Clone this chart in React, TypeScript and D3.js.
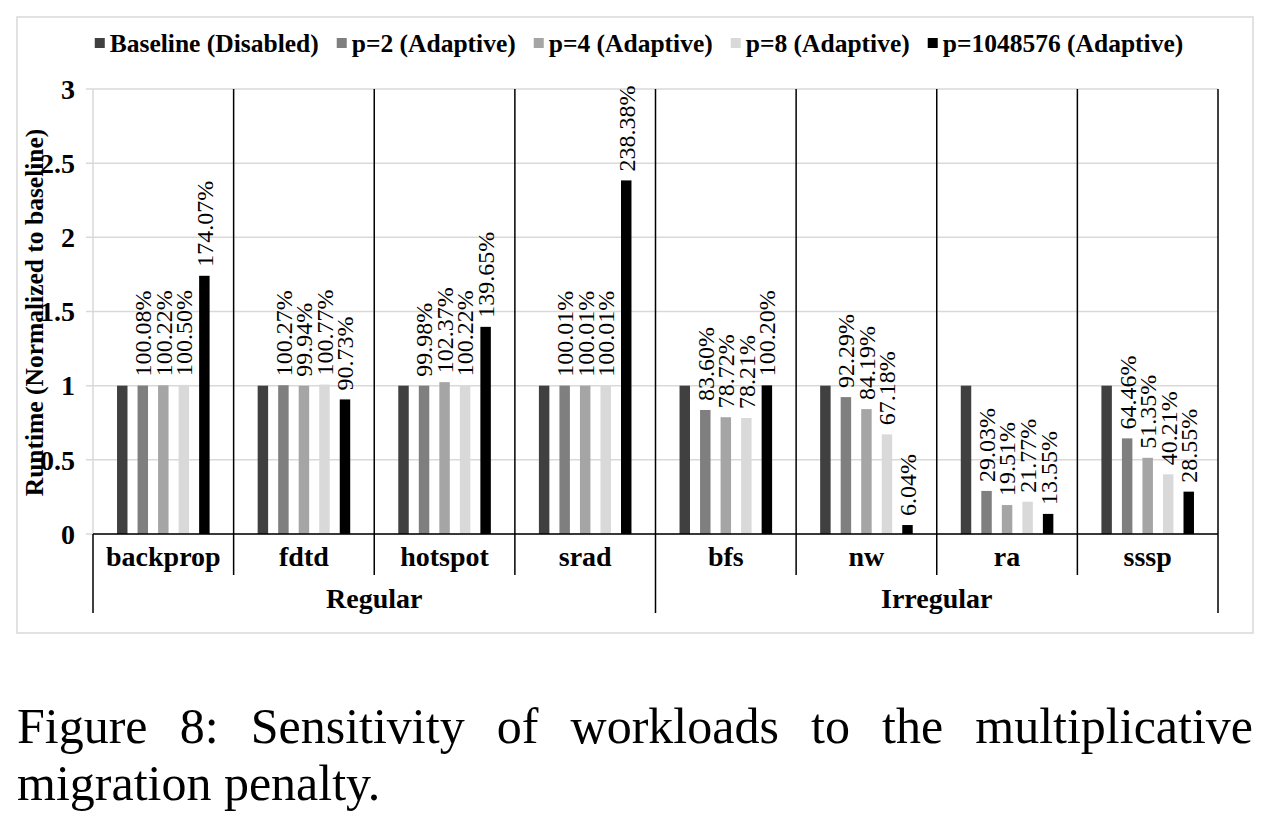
import React, { useRef, useEffect } from "react";
import * as d3 from "d3";

// workloads and their grouping
const categories = ["backprop", "fdtd", "hotspot", "srad", "bfs", "nw", "ra", "sssp"];
const categoryGroup = ["Regular", "Regular", "Regular", "Regular", "Irregular", "Irregular", "Irregular", "Irregular"];
const groupNames = ["Regular", "Irregular"];

const seriesNames = [
  "Baseline (Disabled)",
  "p=2 (Adaptive)",
  "p=4 (Adaptive)",
  "p=8 (Adaptive)",
  "p=1048576 (Adaptive)",
];
const seriesColors = ["#404040", "#7f7f7f", "#a5a5a5", "#d9d9d9", "#000000"];

// runtime normalized to baseline, one array per series
const baseline = [1, 1, 1, 1, 1, 1, 1, 1];
const p2 = [1.0008, 1.0027, 0.9998, 1.0001, 0.836, 0.9229, 0.2903, 0.6446];
const p4 = [1.0022, 0.9994, 1.0237, 1.0001, 0.7872, 0.8419, 0.1951, 0.5135];
const p8 = [1.005, 1.0077, 1.0022, 1.0001, 0.7821, 0.6718, 0.2177, 0.4021];
const p1048576 = [1.7407, 0.9073, 1.3965, 2.3838, 1.002, 0.0604, 0.1355, 0.2855];
const seriesValues = [baseline, p2, p4, p8, p1048576];
const labelledSeries = [false, true, true, true, true];

const yTicks = [0, 0.5, 1, 1.5, 2, 2.5, 3];
const yTitle = "Runtime (Normalized to baseline)";
const captionLines = [
  "Figure 8: Sensitivity of workloads to the multiplicative",
  "migration penalty.",
];

const FONT = "'Liberation Serif', 'Times New Roman', serif";

export default function App() {
  const svgRef = useRef<SVGSVGElement>(null);

  useEffect(() => {
    const W = 1273;
    const H = 819;
    const svg = d3.select(svgRef.current);
    svg.selectAll("*").remove();
    svg.attr("width", W).attr("height", H).style("font-family", FONT);

    svg.append("rect").attr("width", W).attr("height", H).attr("fill", "#fff");

    // chart frame
    svg
      .append("rect")
      .attr("x", 17)
      .attr("y", 17)
      .attr("width", 1236)
      .attr("height", 616)
      .attr("fill", "none")
      .attr("stroke", "#d9d9d9")
      .attr("stroke-width", 1.5);

    const left = 93;
    const right = 1218;
    const top = 89;
    const bottom = 534;
    const catBottom = 575;
    const groupBottom = 613;

    const x0 = d3.scaleBand().domain(categories).range([left, right]).padding(0);
    const x1 = d3
      .scaleBand()
      .domain(seriesNames)
      .range([19, x0.bandwidth() - 19])
      .paddingInner(0.49)
      .paddingOuter(0.245);
    const y = d3.scaleLinear().domain([0, 3]).range([bottom, top]);

    // gridlines
    svg
      .append("g")
      .selectAll("line")
      .data(yTicks)
      .join("line")
      .attr("x1", left - 7)
      .attr("x2", right)
      .attr("y1", (d) => y(d))
      .attr("y2", (d) => y(d))
      .attr("stroke", "#d9d9d9")
      .attr("stroke-width", 1.5);

    // value axis line
    svg
      .append("line")
      .attr("x1", left)
      .attr("x2", left)
      .attr("y1", top)
      .attr("y2", bottom)
      .attr("stroke", "#d9d9d9")
      .attr("stroke-width", 1.5);

    // y tick labels
    svg
      .append("g")
      .selectAll("text")
      .data(yTicks)
      .join("text")
      .attr("x", 75)
      .attr("y", (d) => y(d))
      .attr("dy", "0.35em")
      .attr("text-anchor", "end")
      .attr("font-weight", "bold")
      .attr("font-size", 28)
      .text((d) => String(d));

    // y title
    svg
      .append("text")
      .attr("transform", `translate(34,${(top + bottom) / 2 + 1}) rotate(-90)`)
      .attr("dy", "0.35em")
      .attr("text-anchor", "middle")
      .attr("font-weight", "bold")
      .attr("font-size", 25.5)
      .text(yTitle);

    // bars
    const barData = categories.flatMap((c, i) =>
      seriesNames.map((s, j) => ({ c, s, j, v: seriesValues[j][i] }))
    );
    svg
      .append("g")
      .selectAll("rect")
      .data(barData)
      .join("rect")
      .attr("x", (d) => x0(d.c)! + x1(d.s)!)
      .attr("width", x1.bandwidth())
      .attr("y", (d) => y(d.v))
      .attr("height", (d) => bottom - y(d.v))
      .attr("fill", (d) => seriesColors[d.j]);

    // data labels
    svg
      .append("g")
      .selectAll("text")
      .data(barData.filter((d) => labelledSeries[d.j]))
      .join("text")
      .attr(
        "transform",
        (d) =>
          `translate(${x0(d.c)! + x1(d.s)! + x1.bandwidth() / 2},${y(d.v) - 9}) rotate(-90)`
      )
      .attr("dy", "0.35em")
      .attr("font-size", 24)
      .text((d) => `${(d.v * 100).toFixed(2)}%`);

    // category axis line and separators
    const ax = svg.append("g").attr("stroke", "#000").attr("stroke-width", 1.5);
    ax.append("line").attr("x1", left).attr("x2", right).attr("y1", bottom).attr("y2", bottom);
    categories.forEach((c, i) => {
      if (i === 0) return;
      const xb = x0(c)!;
      const groupEdge = categoryGroup[i] !== categoryGroup[i - 1];
      ax.append("line")
        .attr("x1", xb)
        .attr("x2", xb)
        .attr("y1", top)
        .attr("y2", groupEdge ? groupBottom : catBottom);
    });
    ax.append("line").attr("x1", left).attr("x2", left).attr("y1", bottom).attr("y2", groupBottom);
    ax.append("line").attr("x1", right).attr("x2", right).attr("y1", top).attr("y2", groupBottom);

    // category labels
    svg
      .append("g")
      .selectAll("text")
      .data(categories)
      .join("text")
      .attr("x", (d) => x0(d)! + x0.bandwidth() / 2)
      .attr("y", 566)
      .attr("text-anchor", "middle")
      .attr("font-weight", "bold")
      .attr("font-size", 28)
      .text((d) => d);

    // group labels
    svg
      .append("g")
      .selectAll("text")
      .data(groupNames)
      .join("text")
      .attr("x", (g) => {
        const members = categories.filter((_, i) => categoryGroup[i] === g);
        const a = x0(members[0])!;
        const b = x0(members[members.length - 1])! + x0.bandwidth();
        return (a + b) / 2;
      })
      .attr("y", 608)
      .attr("text-anchor", "middle")
      .attr("font-weight", "bold")
      .attr("font-size", 28)
      .text((d) => d);

    // legend, laid out by measured text widths and centred
    const legend = svg.append("g");
    const marker = 10;
    const markerGap = 5;
    const itemGap = 18;
    const items = seriesNames.map((s, j) => {
      const g = legend.append("g");
      g.append("rect")
        .attr("width", marker)
        .attr("height", marker)
        .attr("y", -marker / 2)
        .attr("fill", seriesColors[j]);
      const t = g
        .append("text")
        .attr("x", marker + markerGap)
        .attr("dy", "0.35em")
        .attr("font-weight", "bold")
        .attr("font-size", 25.5)
        .text(s);
      const w = (t.node() as SVGTextElement).getComputedTextLength();
      return { g, w: marker + markerGap + w };
    });
    const total = d3.sum(items, (d) => d.w) + itemGap * (items.length - 1);
    let cx = 639 - total / 2;
    items.forEach((it) => {
      it.g.attr("transform", `translate(${cx},43)`);
      cx += it.w + itemGap;
    });

    // caption: first line justified, last line left aligned
    const capLeft = 17;
    const capRight = 1253;
    const capBase = [743, 800];
    captionLines.forEach((line, li) => {
      const words = line.split(" ");
      const cap = svg.append("g");
      const nodes = words.map((w) =>
        cap.append("text").attr("y", capBase[li]).attr("font-size", 50).text(w)
      );
      const widths = nodes.map((n) => (n.node() as SVGTextElement).getComputedTextLength());
      const justify = li < captionLines.length - 1;
      const space = justify
        ? (capRight - capLeft - d3.sum(widths)) / (words.length - 1)
        : 12.5;
      let xx = capLeft;
      nodes.forEach((n, k) => {
        n.attr("x", xx);
        xx += widths[k] + space;
      });
    });
  }, []);

  return (
    <div style={{ position: "absolute", left: 0, top: 0 }}>
      <svg ref={svgRef} style={{ display: "block" }} />
    </div>
  );
}
